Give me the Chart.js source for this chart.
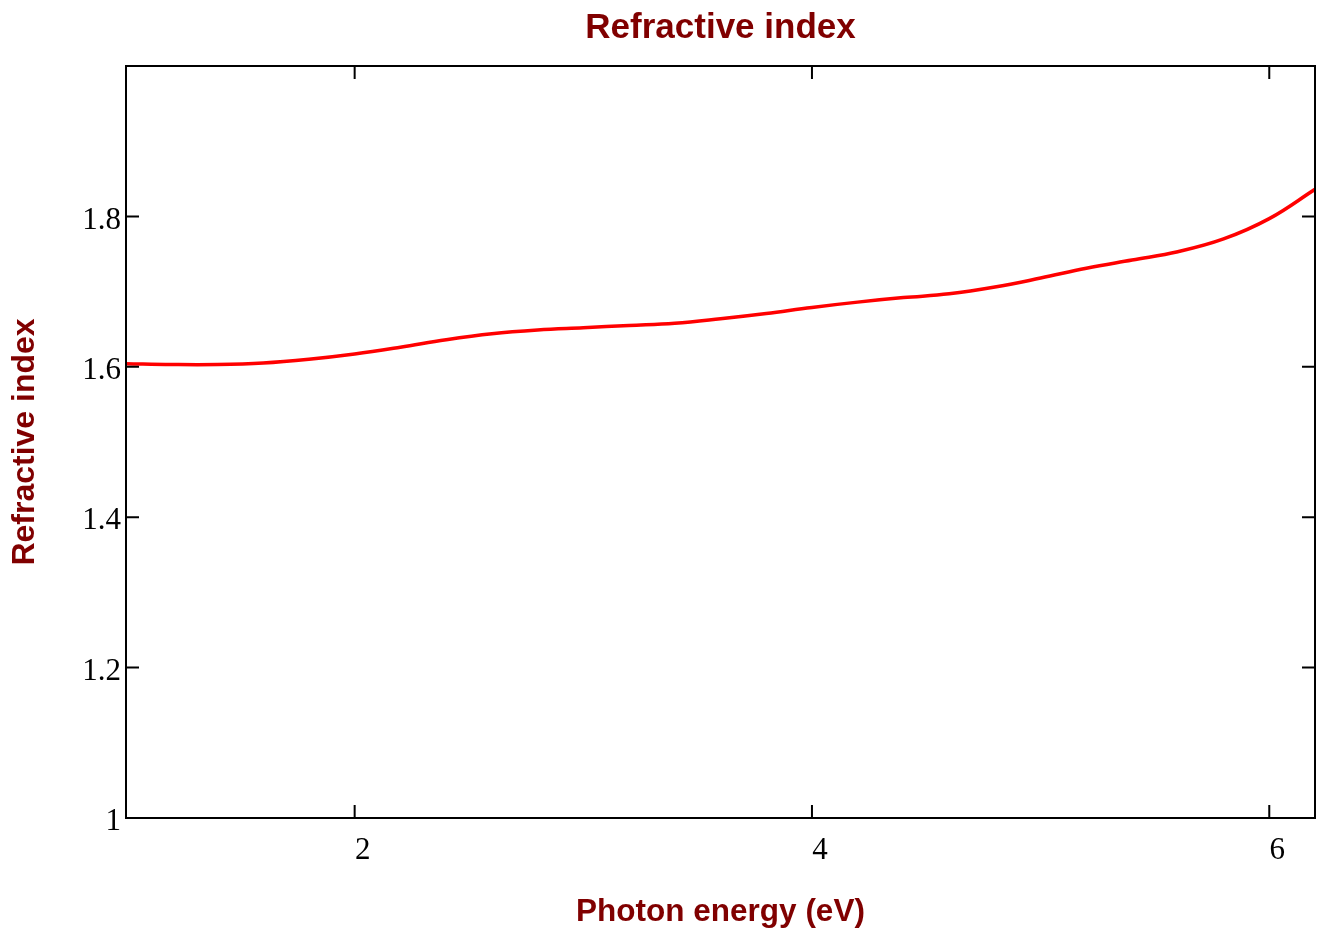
<!DOCTYPE html>
<html>
<head>
<meta charset="utf-8">
<title>Refractive index</title>
<script src="https://cdn.jsdelivr.net/npm/chart.js@4.4.1/dist/chart.umd.min.js"></script>
<style>
  html, body { margin: 0; padding: 0; background: #fff; }
  #wrap { width: 1317px; height: 934px; position: relative; }
</style>
</head>
<body>
<div id="wrap"><canvas id="chart"></canvas></div>
<script>
// photon energy (eV) and refractive index
const energy = [1.0, 1.2, 1.4, 1.6, 1.8, 2.0, 2.2, 2.4, 2.6, 2.8, 3.0, 3.2, 3.4, 3.6,
  3.8, 4.0, 4.2, 4.4, 4.6, 4.8, 5.0, 5.2, 5.4, 5.6, 5.8, 6.0, 6.2];
const nIndex = [1.604, 1.603, 1.603, 1.605, 1.610, 1.617, 1.626, 1.636, 1.644, 1.649,
  1.652, 1.655, 1.658, 1.664, 1.671, 1.679, 1.686, 1.692, 1.697, 1.706,
  1.718, 1.731, 1.742, 1.753, 1.770, 1.797, 1.836];

const xTicks = [2, 4, 6];
const yTicks = [1, 1.2, 1.4, 1.6, 1.8];

const darkRed = '#800000';

// box round the plot, with inward ticks on all four sides
const framePlugin = {
  id: 'frame',
  afterDatasetsDraw(chart) {
    const { ctx, chartArea: a, scales } = chart;
    const len = 13;
    ctx.save();
    ctx.strokeStyle = '#000';
    ctx.lineWidth = 2;
    ctx.strokeRect(a.left, a.top, a.right - a.left, a.bottom - a.top);
    ctx.beginPath();
    xTicks.forEach(v => {
      const px = scales.x.getPixelForValue(v);
      ctx.moveTo(px, a.bottom); ctx.lineTo(px, a.bottom - len);
      ctx.moveTo(px, a.top); ctx.lineTo(px, a.top + len);
    });
    yTicks.forEach(v => {
      const py = scales.y.getPixelForValue(v);
      ctx.moveTo(a.left, py); ctx.lineTo(a.left + len, py);
      ctx.moveTo(a.right, py); ctx.lineTo(a.right - len, py);
    });
    ctx.stroke();
    ctx.restore();
  }
};

const tickFont = { family: '"Liberation Serif", "Times New Roman", serif', size: 31 };
const sans = '"Liberation Sans", Arial, sans-serif';

new Chart(document.getElementById('chart').getContext('2d'), {
  type: 'line',
  data: {
    datasets: [{
      label: 'Refractive index',
      data: energy.map((e, i) => ({ x: e, y: nIndex[i] })),
      borderColor: '#ff0000',
      borderWidth: 3.5,
      pointRadius: 0,
      tension: 0.4,
      fill: false
    }]
  },
  options: {
    responsive: true,
    maintainAspectRatio: false,
    animation: false,
    layout: { padding: { left: 0, right: 2, top: 0, bottom: 0 } },
    plugins: {
      legend: { display: false },
      tooltip: { enabled: false },
      title: {
        display: true,
        fullSize: false,
        text: 'Refractive index',
        color: darkRed,
        font: { family: sans, weight: 'bold', size: 35 },
        padding: { top: 7, bottom: 17 }
      }
    },
    scales: {
      x: {
        type: 'linear',
        min: 1,
        max: 6.2,
        afterBuildTicks: s => { s.ticks = xTicks.map(v => ({ value: v })); },
        afterFit: s => { s.height = 116; },
        grid: { display: false, drawTicks: false },
        border: { display: false },
        ticks: {
          color: '#000',
          font: tickFont,
          padding: 14,
          labelOffset: 8,
          maxRotation: 0,
          callback: v => String(v)
        },
        title: {
          display: true,
          text: 'Photon energy (eV)',
          color: darkRed,
          font: { family: sans, weight: 'bold', size: 31.5 },
          padding: { top: 0, bottom: 3 }
        }
      },
      y: {
        type: 'linear',
        min: 1,
        max: 2,
        afterBuildTicks: s => { s.ticks = yTicks.map(v => ({ value: v })); },
        afterFit: s => { s.width = 126; },
        grid: { display: false, drawTicks: false },
        border: { display: false },
        ticks: {
          color: '#000',
          font: tickFont,
          padding: 5,
          labelOffset: 4,
          callback: v => String(v)
        },
        title: {
          display: true,
          text: 'Refractive index',
          color: darkRed,
          font: { family: sans, weight: 'bold', size: 32 },
          padding: { top: 6, bottom: 0 }
        }
      }
    }
  },
  plugins: [framePlugin]
});
</script>
</body>
</html>
